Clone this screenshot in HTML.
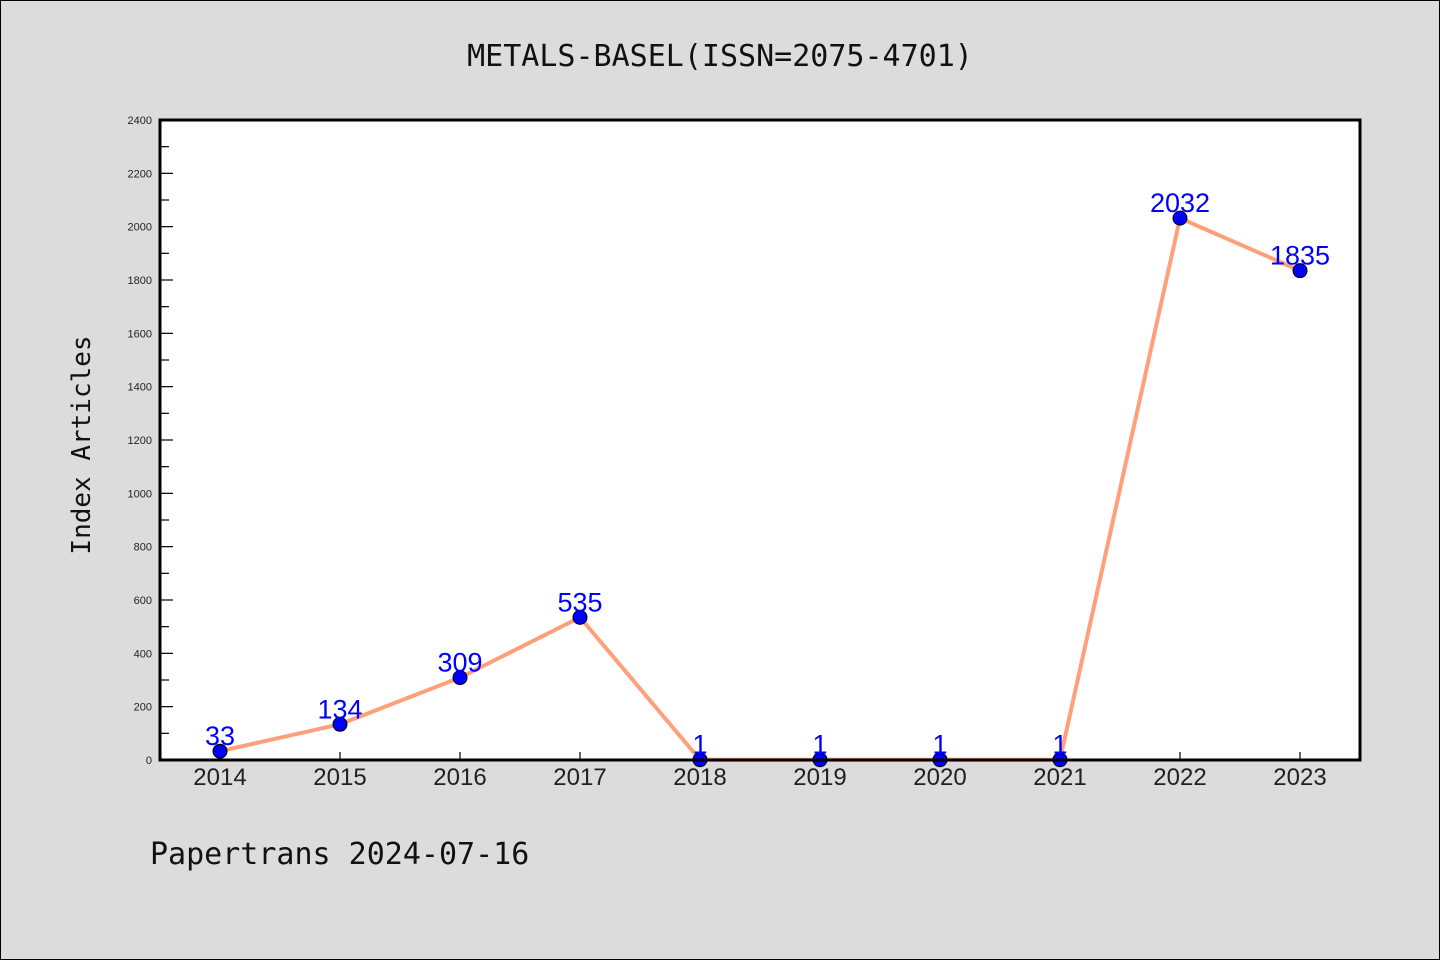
<!DOCTYPE html>
<html><head><meta charset="utf-8"><style>
html,body{margin:0;padding:0;background:#dcdcdc;}
svg{display:block;}
</style></head><body>
<svg width="1440" height="960" xmlns="http://www.w3.org/2000/svg">
<rect x="0.5" y="0.5" width="1439" height="959" fill="#dcdcdc" stroke="#000"/>
<text x="720" y="66" text-anchor="middle" font-family="'WenQuanYi Zen Hei','DejaVu Sans Mono',monospace" font-size="30" fill="#111">METALS-BASEL(ISSN=2075-4701)</text>
<rect x="160" y="120" width="1200" height="640" fill="#fff"/>
<g id="yaxis"></g>
<g id="xaxis"></g>
<g id="series"></g>
<rect x="160" y="120" width="1200" height="640" fill="none" stroke="#000" stroke-width="3"/>
<text transform="translate(90,445) rotate(-90)" text-anchor="middle" font-family="'WenQuanYi Zen Hei','DejaVu Sans Mono',monospace" font-size="26" fill="#111">Index Articles</text>
<text x="150" y="864" font-family="'WenQuanYi Zen Hei','DejaVu Sans Mono',monospace" font-size="30" fill="#111">Papertrans 2024-07-16</text>
</svg>
<script>
const categories=["2014","2015","2016","2017","2018","2019","2020","2021","2022","2023"];
const values=[33,134,309,535,1,1,1,1,2032,1835];
const yTicks=[0,200,400,600,800,1000,1200,1400,1600,1800,2000,2200,2400];
const NS="http://www.w3.org/2000/svg";
const X0=160,X1=1360,Y0=760,Y1=120,YMAX=2400;
function xs(i){return 220+i*120;}
function ys(v){return Y0-(v/YMAX)*(Y0-Y1);}
function mk(t,a,p){const e=document.createElementNS(NS,t);for(const k in a)e.setAttribute(k,a[k]);p.appendChild(e);return e;}
const ya=document.getElementById('yaxis');
yTicks.forEach((v,i)=>{
 const y=ys(v);
 const l=mk('line',{x1:X0,x2:X0+13,y1:y,y2:y,stroke:'#000','stroke-width':1.2},ya);
 
 
 const t=mk('text',{x:152,y:y+4,'text-anchor':'end','font-family':'Liberation Sans,sans-serif','font-size':11,fill:'#222'},ya);
 t.textContent=v;
 
 
 if(i<yTicks.length-1){const ym=ys(v+100);
  const m=mk('line',{x1:X0,x2:X0+9,y1:ym,y2:ym,stroke:'#000','stroke-width':1.2},ya);
  
  }
});
const xa=document.getElementById('xaxis');
categories.forEach((c,i)=>{
 const x=xs(i);
 const l=mk('line',{x1:x,x2:x,y1:Y0,y2:Y0-8,stroke:'#000','stroke-width':1.2},xa);
 
 
 const t=mk('text',{x:x,y:785,'text-anchor':'middle','font-family':'Liberation Sans,sans-serif','font-size':24,fill:'#222'},xa);
 t.textContent=c;
 
 
});
const s=document.getElementById('series');
const pl=mk('polyline',{points:values.map((v,i)=>xs(i)+','+ys(v)).join(' '),fill:'none',stroke:'#ffa07a','stroke-width':4},s);


values.forEach((v,i)=>{
 const c=mk('circle',{cx:xs(i),cy:ys(v),r:7,fill:'#0000ff',stroke:'#000','stroke-width':1},s);
 
 
 const t=mk('text',{x:xs(i),y:ys(v)-6,'text-anchor':'middle','font-family':'Liberation Sans,sans-serif','font-size':27,fill:'#0000ff'},s);
 t.textContent=v;
 
 
});
</script>
</body></html>
